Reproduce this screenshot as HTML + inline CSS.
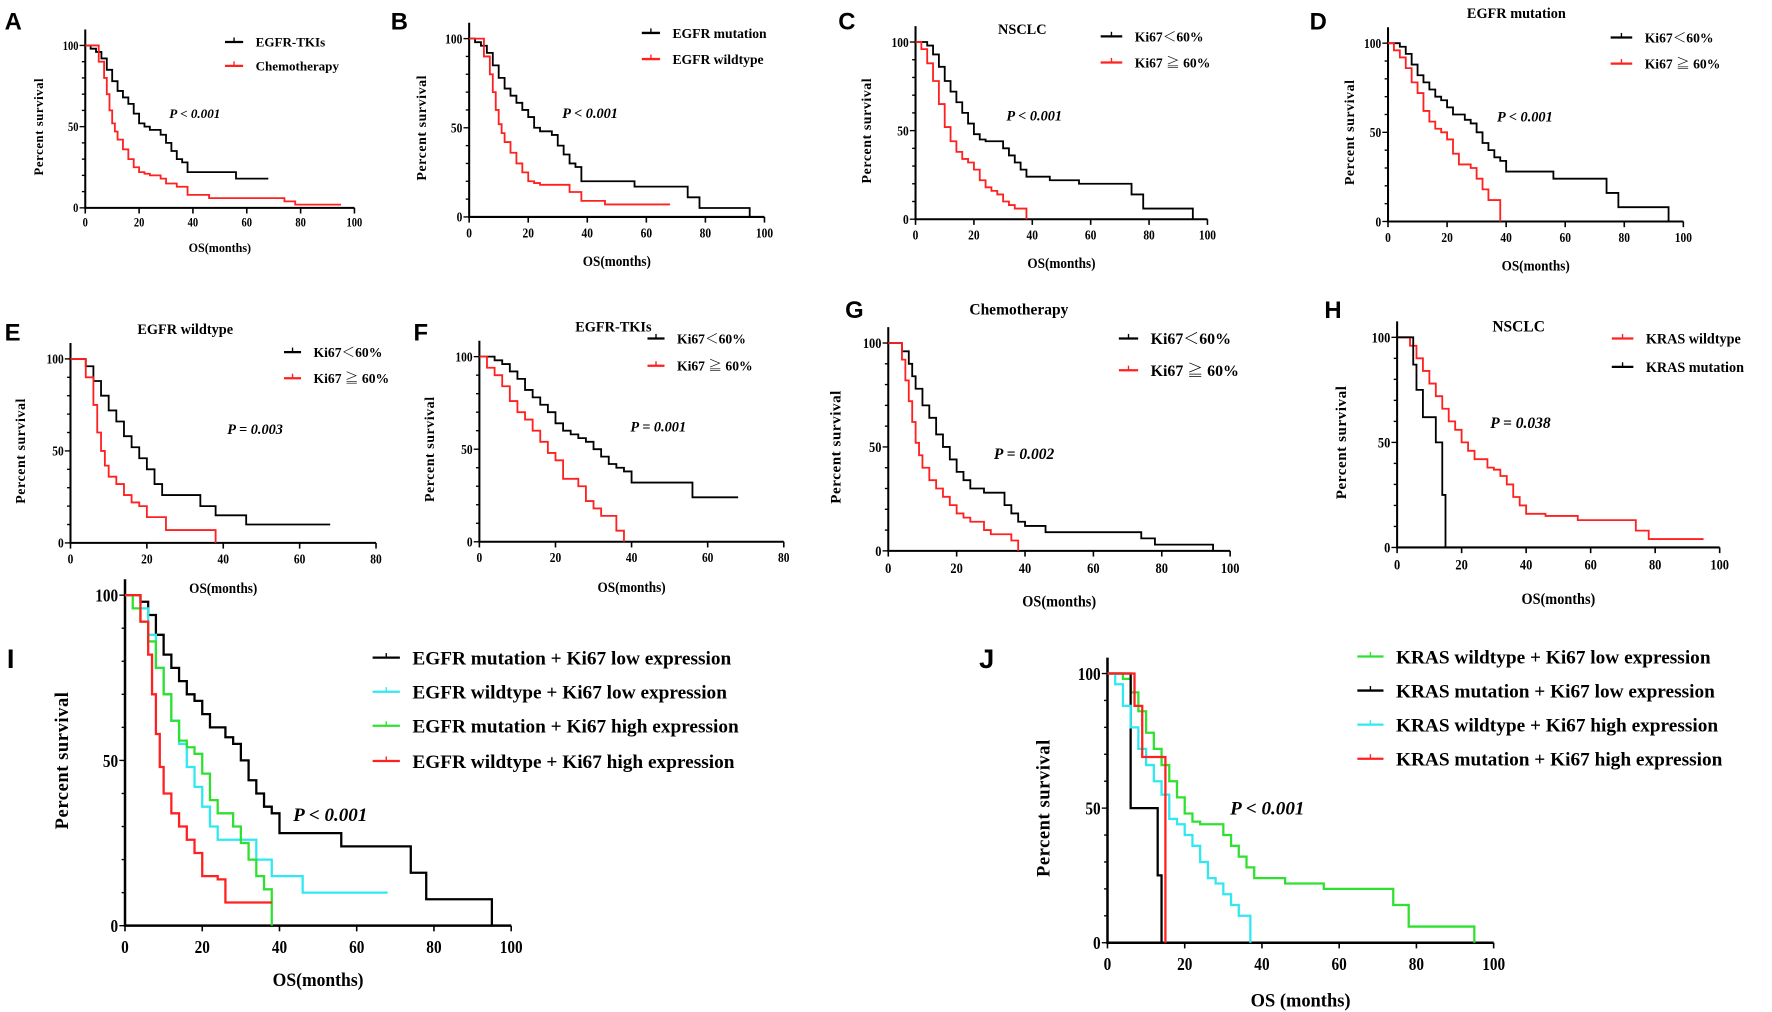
<!DOCTYPE html>
<html><head><meta charset="utf-8">
<style>
html,body{margin:0;padding:0;background:#fff;}
svg{display:block;}
text{font-family:"Liberation Serif","Noto Serif CJK SC",serif;font-weight:bold;fill:#000;}
.lt{font-family:"Liberation Sans",sans-serif;font-weight:bold;}
</style></head>
<body>
<svg id="fig" width="1772" height="1012" viewBox="0 0 1560 891" xmlns="http://www.w3.org/2000/svg"></svg>
<script>
// ---- data: times (months) and survival (%) ----
const aBlackT=[0,2,4,6,8,10,12,14,16,18,20,22,24,26,28,30,32,34,36,38,40,56,68];
const aBlackS=[100,98,96,92,85,78,72,68,64,58,52,50,48,48,45,40,35,30,28,22,22,18,18];
const aRedT=[0,5,7,8,9,10,11,12,14,16,18,20,22,24,28,30,34,38,46,74,78,95];
const aRedS=[100,90,80,70,60,52,47,42,36,30,25,22,21,20,18,15,13,8,6,4,2,2];
const bBlackT=[0,2,4,6,8,10,12,14,16,18,20,22,24,26,28,30,32,34,36,38,56,74,78,95];
const bBlackS=[100,98,96,92,85,78,72,68,64,60,56,50,48,48,46,40,35,30,28,20,17,11,5,0];
const bRedT=[0,5,7,8,9,10,11,12,14,16,18,20,22,24,28,34,38,46,68];
const bRedS=[100,90,80,70,60,52,47,42,36,30,25,20,19,18,18,14,9,7,7];
const cBlackT=[0,4,6,8,10,12,14,16,18,20,22,24,28,30,32,34,36,38,46,56,74,78,95];
const cBlackS=[100,98,93,86,78,72,66,60,54,48,45,44,44,40,36,32,28,24,22,20,14,6,0];
const cRedT=[0,2,4,6,8,10,12,14,16,18,20,22,24,26,28,30,32,34,38];
const cRedS=[100,96,88,78,65,52,44,38,34,32,28,22,18,16,14,10,8,6,0];
const dBlackT=[0,4,6,8,10,12,14,16,18,20,22,26,28,30,32,34,36,38,40,56,74,78,95];
const dBlackS=[100,98,94,88,82,78,74,70,68,64,60,57,55,50,44,40,36,34,28,24,16,8,0];
const dRedT=[0,2,4,6,8,10,12,14,16,18,20,22,24,28,30,32,34,38];
const dRedS=[100,96,92,86,78,72,62,56,52,50,46,38,32,30,24,18,12,0];
const eBlackT=[0,4,6,8,10,12,14,16,18,20,22,24,26,30,34,38,46,68];
const eBlackS=[100,96,88,80,72,66,58,52,46,40,32,26,26,26,20,15,10,10];
const eRedT=[0,4,6,7,8,9,10,12,14,16,18,20,25,38];
const eRedS=[100,90,75,60,50,42,36,32,26,22,20,14,7,0];
const fBlackT=[0,4,6,8,10,12,14,16,18,20,22,24,26,28,30,32,34,36,38,40,56,68];
const fBlackS=[100,98,96,92,88,82,78,74,70,64,60,58,56,54,50,46,42,40,38,32,24,24];
const fRedT=[0,2,4,6,8,10,12,14,16,18,20,22,26,28,30,32,36,38];
const fRedS=[100,94,90,84,76,70,66,60,54,48,44,34,30,22,18,14,6,0];
const gBlackT=[0,4,6,7,8,10,12,14,16,18,20,22,24,28,30,34,36,38,40,46,74,78,95];
const gBlackS=[100,96,90,84,78,70,64,56,50,44,38,34,30,28,28,22,18,14,12,9,6,3,0];
const gRedT=[0,4,5,6,7,8,9,10,12,14,16,18,20,22,24,28,30,36,38];
const gRedS=[100,92,82,72,62,52,46,40,34,30,26,22,18,16,14,10,8,5,0];
const hRedT=[0,2,4,6,8,10,12,14,16,18,20,22,24,28,30,32,34,36,38,40,46,56,74,78,95];
const hRedS=[100,100,96,90,84,78,72,66,60,56,50,46,42,38,37,34,30,24,20,16,15,13,8,4,4];
const hBlackT=[0,4,5,6,8,10,12,14,15];
const hBlackS=[100,100,87,75,62,62,50,25,0];
const iBlackT=dBlackT, iBlackS=dBlackS;
const iCyanT=[0,4,6,8,10,12,14,16,18,20,22,24,26,30,34,38,46,68];
const iCyanS=[100,96,88,78,70,62,55,48,42,36,30,26,26,26,20,15,10,10];
const iGreenT=[0,2,4,6,8,10,12,14,16,18,20,22,24,28,30,32,34,36,38];
const iGreenS=[100,96,92,86,78,70,62,56,54,52,46,38,34,30,25,20,15,11,0];
const iRedT=[0,4,6,7,8,9,10,12,14,16,18,20,24,26,38];
const iRedS=[100,92,82,70,58,48,40,34,30,26,22,15,14,7,7];
const jGreenT=cBlackT, jGreenS=cBlackS;
const jBlackT=[0,6,13,14];
const jBlackS=[100,50,25,0];
const jCyanT=[0,2,4,6,8,10,12,14,16,18,20,22,24,26,28,30,32,34,36,37];
const jCyanS=[100,96,88,80,72,66,60,55,46,44,40,36,30,24,22,18,14,10,10,0];
const jRedT=[0,7,9,15];
const jRedS=[100,88,69,0];
const xTicks100=[0,20,40,60,80,100];
const xTicks80=[0,20,40,60,80];
const yTicks=[0,50,100];

const NS='http://www.w3.org/2000/svg';
const svg=document.getElementById('fig');
function mk(tag,attrs,parent){const e=document.createElementNS(NS,tag);for(const k in attrs)e.setAttribute(k,attrs[k]);(parent||svg).appendChild(e);return e;}
function txt(s,x,y,size,parent,extra){const t=mk('text',Object.assign({x:x,y:y,'font-size':size},extra||{}),parent);t.textContent=s;return t;}

const COL={black:'#000',red:'#ff2020',cyan:'#30e8f0',green:'#30e030'};

function panel(p){
  const g=mk('g',{});
  
  
  const X=t=>p.x0+(p.x1-p.x0)*t/p.xmax;
  const Y=s=>p.y0+(p.y1-p.y0)*s/100;
  const fs=p.fs;
  const L=txt(p.id,p.lx,p.ly,p.big?24:21,g,{class:'lt'});
  
  
  const ax=mk('path',{d:`M${p.x0},${p.y1-14}V${p.y0}H${p.x1}`,stroke:'#000','stroke-width':p.big?2.2:1.8,fill:'none'},g);
  
  
  for(let v=0;v<=110;v+=10){const y=Y(v);if(y<p.y1-14)break;mk('line',{x1:p.x0-(v%50===0?5:3),x2:p.x0,y1:y,y2:y,stroke:'#000','stroke-width':1.2},g);}
  yTicks.forEach(v=>{const t=txt(String(v),p.x0-6,Y(v)+fs*0.35,fs,g,{'text-anchor':'end','textLength':String(v).length*fs*0.42,'lengthAdjust':'spacingAndGlyphs'});
    
    });
  p.xt.forEach(v=>{mk('line',{x1:X(v),x2:X(v),y1:p.y0,y2:p.y0+5,stroke:'#000','stroke-width':1.4},g);
    const t=txt(String(v),X(v),p.y0+fs*1.5,fs,g,{'text-anchor':'middle','textLength':String(v).length*fs*0.42,'lengthAdjust':'spacingAndGlyphs'});
    
    });
  const xl=txt(p.xlab,(p.x0+p.x1)/2,p.xly,fs*1.05,g,{'text-anchor':'middle','textLength':p.xlab.length*fs*0.5,'lengthAdjust':'spacingAndGlyphs'});
  
  
  const yl=txt('Percent survival',0,0,fs*1.02,g,{'text-anchor':'middle',transform:`translate(${p.ylx},${(p.y0+p.y1)/2}) rotate(-90)`,'letter-spacing':'0.5'});
  
  
  if(p.title){const tt=txt(p.title,p.tx,p.ty,fs*1.05,g,{'text-anchor':'middle'});
    
    }
  const pv=txt(p.pv,p.px,p.py,fs*1.05,g,{'font-style':'italic'});
  
  
  p.series.forEach((s,i)=>{
    let d=`M${X(s.t[0])},${Y(s.s[0])}`;
    for(let k=1;k<s.t.length;k++){d+=`H${X(s.t[k])}V${Y(s.s[k])}`;}
    const path=mk('path',{d:d,stroke:COL[s.c],'stroke-width':p.big?2:1.6,fill:'none'},g);
    
    
    const ly=p.legY[i];
    const le=mk('g',{},g);
    
    
    mk('line',{x1:p.legX,x2:p.legX+p.legW,y1:ly,y2:ly,stroke:COL[s.c],'stroke-width':2},le);
    mk('line',{x1:p.legX+p.legW/2,x2:p.legX+p.legW/2,y1:ly-4,y2:ly,stroke:COL[s.c],'stroke-width':1.2},le);
    txt(s.name,p.legX+p.legW+11,ly+p.lfs*0.36,p.lfs,le);
  });
}
const KL='Ki67\uFF1C60%', KH='Ki67 \u2267 60%';
const panels=[
 {id:'A',lx:4,ly:26,x0:75,x1:312,xmax:100,y0:183,y1:40,xt:xTicks100,fs:11,xlab:'OS(months)',xly:222,ylx:38,pv:'P  < 0.001',px:149,py:104,legX:198,legW:16,legY:[37,58],lfs:11.5,
  series:[{t:aBlackT,s:aBlackS,c:'black',name:'EGFR-TKIs'},{t:aRedT,s:aRedS,c:'red',name:'Chemotherapy'}]},
 {id:'B',lx:344,ly:26,x0:413,x1:673,xmax:100,y0:191,y1:34,xt:xTicks100,fs:12,xlab:'OS(months)',xly:234,ylx:375,pv:'P  < 0.001',px:495,py:104,legX:565,legW:16,legY:[29,52],lfs:12,
  series:[{t:bBlackT,s:bBlackS,c:'black',name:'EGFR mutation'},{t:bRedT,s:bRedS,c:'red',name:'EGFR wildtype'}]},
 {id:'C',lx:738,ly:26,x0:806,x1:1063,xmax:100,y0:193,y1:37,xt:xTicks100,fs:12,xlab:'OS(months)',xly:236,ylx:767,title:'NSCLC',tx:900,ty:30,pv:'P  < 0.001',px:886,py:106,legX:969,legW:19,legY:[32,55],lfs:12,
  series:[{t:cBlackT,s:cBlackS,c:'black',name:KL},{t:cRedT,s:cRedS,c:'red',name:KH}]},
 {id:'D',lx:1153,ly:26,x0:1222,x1:1482,xmax:100,y0:195,y1:38,xt:xTicks100,fs:12,xlab:'OS(months)',xly:238,ylx:1192,title:'EGFR mutation',tx:1335,ty:16,pv:'P  < 0.001',px:1318,py:107,legX:1418,legW:19,legY:[33,56],lfs:12,
  series:[{t:dBlackT,s:dBlackS,c:'black',name:KL},{t:dRedT,s:dRedS,c:'red',name:KH}]},
 {id:'E',lx:4,ly:300,x0:62,x1:331,xmax:80,y0:478,y1:316,xt:xTicks80,fs:12,xlab:'OS(months)',xly:522,ylx:22,title:'EGFR wildtype',tx:163,ty:294,pv:'P  = 0.003',px:200,py:382,legX:250,legW:15,legY:[310,333],lfs:12,
  series:[{t:eBlackT,s:eBlackS,c:'black',name:KL},{t:eRedT,s:eRedS,c:'red',name:KH}]},
 {id:'F',lx:364,ly:300,x0:422,x1:690,xmax:80,y0:477,y1:314,xt:xTicks80,fs:12,xlab:'OS(months)',xly:521,ylx:382,title:'EGFR-TKIs',tx:540,ty:292,pv:'P  = 0.001',px:555,py:380,legX:570,legW:15,legY:[298,322],lfs:12,
  series:[{t:fBlackT,s:fBlackS,c:'black',name:KL},{t:fRedT,s:fRedS,c:'red',name:KH}]},
 {id:'G',lx:744,ly:280,x0:782,x1:1083,xmax:100,y0:485,y1:302,xt:xTicks100,fs:13,xlab:'OS(months)',xly:534,ylx:740,title:'Chemotherapy',tx:897,ty:277,pv:'P  = 0.002',px:875,py:404,legX:985,legW:17,legY:[298,326],lfs:14,
  series:[{t:gBlackT,s:gBlackS,c:'black',name:KL},{t:gRedT,s:gRedS,c:'red',name:KH}]},
 {id:'H',lx:1166,ly:280,x0:1230,x1:1514,xmax:100,y0:482,y1:297,xt:xTicks100,fs:13,xlab:'OS(months)',xly:532,ylx:1185,title:'NSCLC',tx:1337,ty:292,pv:'P  = 0.038',px:1312,py:377,legX:1419,legW:19,legY:[298,323],lfs:12.5,
  series:[{t:hRedT,s:hRedS,c:'red',name:'KRAS wildtype'},{t:hBlackT,s:hBlackS,c:'black',name:'KRAS mutation'}]},
 {id:'I',lx:6,ly:588,big:1,x0:110,x1:450,xmax:100,y0:815,y1:524,xt:xTicks100,fs:16,xlab:'OS(months)',xly:868,ylx:60,pv:'P  < 0.001',px:258,py:723,legX:328,legW:24,legY:[579,609,639,670],lfs:17,
  series:[{t:iBlackT,s:iBlackS,c:'black',name:'EGFR mutation + Ki67 low expression'},{t:iCyanT,s:iCyanS,c:'cyan',name:'EGFR wildtype + Ki67 low expression'},{t:iGreenT,s:iGreenS,c:'green',name:'EGFR mutation + Ki67 high expression'},{t:iRedT,s:iRedS,c:'red',name:'EGFR wildtype + Ki67 high expression'}]},
 {id:'J',lx:862,ly:588,big:1,x0:975,x1:1315,xmax:100,y0:830,y1:593,xt:xTicks100,fs:16,xlab:'OS (months)',xly:886,ylx:924,pv:'P  < 0.001',px:1083,py:717,legX:1195,legW:23,legY:[578,608,638,668],lfs:17,
  series:[{t:jGreenT,s:jGreenS,c:'green',name:'KRAS wildtype + Ki67 low expression'},{t:jBlackT,s:jBlackS,c:'black',name:'KRAS mutation + Ki67 low expression'},{t:jCyanT,s:jCyanS,c:'cyan',name:'KRAS wildtype + Ki67 high expression'},{t:jRedT,s:jRedS,c:'red',name:'KRAS mutation + Ki67 high expression'}]}
];
panels.forEach(panel);
</script>
</body></html>
